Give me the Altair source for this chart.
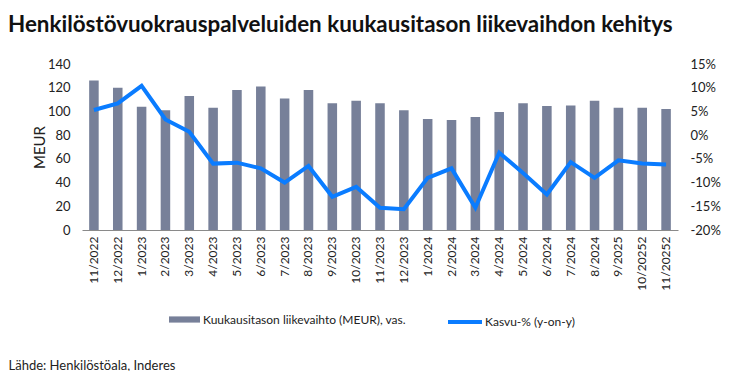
import altair as alt
import pandas as pd

months = ["11/2022", "12/2022", "1/2023", "2/2023", "3/2023", "4/2023", "5/2023",
          "6/2023", "7/2023", "8/2023", "9/2023", "10/2023", "11/2023", "12/2023",
          "1/2024", "2/2024", "3/2024", "4/2024", "5/2024", "6/2024", "7/2024",
          "8/2024", "9/2025", "10/20252", "11/20252"]
revenue = [126, 120, 104, 101, 113, 103, 118,
           121, 111, 118, 107, 109, 107, 101,
           93.6, 92.7, 95.3, 99.5, 107, 104.6, 105,
           109, 103, 103, 102]
growth = [5.3, 6.7, 10.4, 3.3, 0.7, -6.0, -5.8,
          -7.0, -10.0, -6.5, -13.0, -10.9, -15.3, -15.6,
          -9.0, -7.0, -15.3, -3.7, -8.0, -12.5, -5.7,
          -9.0, -5.3, -6.0, -6.2]

bar_name = "Kuukausitason liikevaihto (MEUR), vas."
line_name = "Kasvu-% (y-on-y)"
left_ticks = [0, 20, 40, 60, 80, 100, 120, 140]
right_ticks = [-20, -15, -10, -5, 0, 5, 10, 15]

df = pd.DataFrame({"kk": months, "liikevaihto": revenue, "kasvu": growth,
                   "s1": [bar_name] * len(months), "s2": [line_name] * len(months)})

FONT = "Lato"
BAR_C = "#778099"
LINE_C = "#0A7CFF"
TXT = "#222222"

x_enc = alt.X("kk:N", sort=months,
              scale=alt.Scale(paddingInner=0.6, paddingOuter=0.3),
              axis=alt.Axis(title="Lähde: Henkilöstöala, Inderes", labelAngle=270,
                            labelFont=FONT, labelFontSize=12, labelColor=TXT,
                            labelPadding=6, ticks=False, domainColor="#8a8a8a",
                            domainWidth=1.2, titleAnchor="start", titleAlign="left",
                            titleX=-74, titleY=135, titleBaseline="middle",
                            titleFont=FONT, titleFontSize=13, titleFontWeight="normal",
                            titleColor=TXT))

bars = alt.Chart(df).mark_bar().encode(
    x=x_enc,
    y=alt.Y("liikevaihto:Q", scale=alt.Scale(domain=[0, 140], nice=False),
            axis=alt.Axis(values=left_ticks, title="MEUR", grid=False, ticks=False,
                          domain=False, labelFont=FONT, labelFontSize=13,
                          labelColor=TXT, labelPadding=12, titleFont=FONT,
                          titleFontSize=15, titleFontWeight="normal", titleColor=TXT,
                          titlePadding=0)),
    fill=alt.Fill("s1:N", scale=alt.Scale(range=[BAR_C]),
                  legend=alt.Legend(orient="none", legendX=87, legendY=240, title=None,
                                    symbolType="M-1,-0.2H1V0.2H-1Z", symbolSize=961,
                                    symbolStrokeWidth=0, labelFont=FONT, labelFontSize=12,
                                    labelColor=TXT, labelOffset=3, labelLimit=400)),
)

line = alt.Chart(df).mark_line(strokeWidth=4).encode(
    x=x_enc,
    y=alt.Y("kasvu:Q", scale=alt.Scale(domain=[-20, 15], nice=False),
            axis=alt.Axis(orient="right", values=right_ticks, title=None, grid=False,
                          ticks=False, domain=False, labelExpr="datum.value + '%'",
                          labelFont=FONT, labelFontSize=13, labelColor=TXT,
                          labelPadding=12)),
    stroke=alt.Stroke("s2:N", scale=alt.Scale(range=[LINE_C]),
                      legend=alt.Legend(orient="none", legendX=364, legendY=239, title=None,
                                        symbolType="stroke", symbolSize=1156,
                                        symbolStrokeWidth=4, labelFont=FONT,
                                        labelFontSize=12, labelColor=TXT, labelOffset=1,
                                        labelLimit=400)),
)

chart = alt.layer(bars, line).resolve_scale(y="independent").properties(
    width=596, height=166,
    title=alt.TitleParams("Henkilöstövuokrauspalveluiden kuukausitason liikevaihdon kehitys",
                          anchor="start", frame="group", dx=-74, font=FONT, fontSize=22.4,
                          fontWeight="bold", color="#111111", offset=22),
    autosize="none",
    padding={"left": 74, "top": 56, "right": 48, "bottom": 141},
).configure_view(stroke=None)

chart.save("out.html", embed_options={"renderer": "svg", "actions": False})
